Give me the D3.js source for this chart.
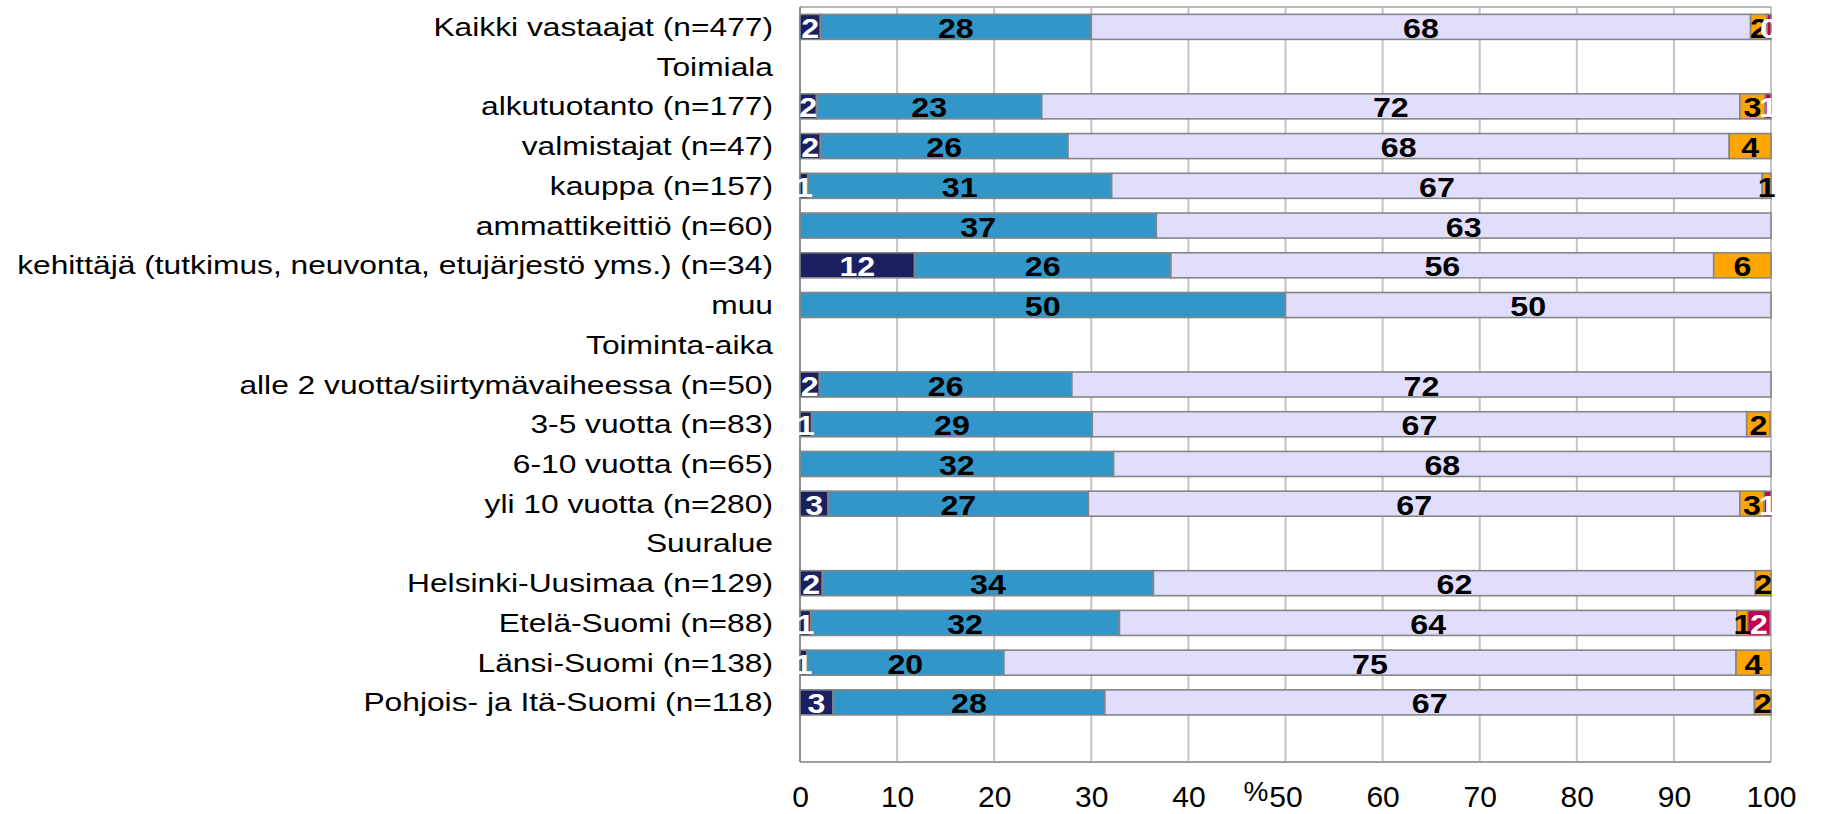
<!DOCTYPE html>
<html><head><meta charset="utf-8">
<script src="https://cdn.jsdelivr.net/npm/d3@7"></script>
<style>
html,body{margin:0;padding:0;background:#fff;}
svg{display:block;font-family:"Liberation Sans",Arial,sans-serif;}
</style></head>
<body>
<svg id="chart" width="1821" height="814"></svg>
<script>
const categories = [
  "Kaikki vastaajat (n=477)",
  "Toimiala",
  "alkutuotanto (n=177)",
  "valmistajat (n=47)",
  "kauppa (n=157)",
  "ammattikeittiö (n=60)",
  "kehittäjä (tutkimus, neuvonta, etujärjestö yms.) (n=34)",
  "muu",
  "Toiminta-aika",
  "alle 2 vuotta/siirtymävaiheessa (n=50)",
  "3-5 vuotta (n=83)",
  "6-10 vuotta (n=65)",
  "yli 10 vuotta (n=280)",
  "Suuralue",
  "Helsinki-Uusimaa (n=129)",
  "Etelä-Suomi (n=88)",
  "Länsi-Suomi (n=138)",
  "Pohjois- ja Itä-Suomi (n=118)",
  ""
];
const s1 = [2.1, null, 1.7, 2.1, 0.8, 0,    11.8, 0,  null, 2.0, 1.2, 0,    2.9, null, 2.3, 1.1, 0.7, 3.4, null];
const s2 = [27.9,null, 23.2,25.5, 31.3, 36.7, 26.4, 50, null, 26.0,28.9, 32.3, 26.8,null, 34.1, 31.8,20.3, 28.0,null];
const s3 = [67.9,null, 71.9,68.1, 67.0, 63.3, 55.9, 50, null, 72.0,67.4, 67.7, 67.1,null, 62.0, 63.6,75.4, 66.9,null];
const s4 = [1.7, null, 2.6, 4.3,  0.9,  0,    5.9,  0,  null, 0,   2.4,  0,    2.5, null, 1.6,  1.1, 3.6,  1.7, null];
const s5 = [0.4, null, 0.6, 0,    0,    0,    0,    0,  null, 0,   0,    0,    0.7, null, 0,    2.3, 0,    0,   null];
const xTicks = [0,10,20,30,40,50,60,70,80,90,100];

const series = [
  {vals:s1, fill:"#1b2160", text:"#fff"},
  {vals:s2, fill:"#3396c8", text:"#000"},
  {vals:s3, fill:"#e0ddfd", text:"#000"},
  {vals:s4, fill:"#ffa500", text:"#000"},
  {vals:s5, fill:"#c2004f", text:"#fff"}
];

const svg = d3.select("#chart");
const L = 800, R = 1771, T = 7, B = 762;
const x = d3.scaleLinear().domain([0,100]).range([L,R]);
const y = d3.scaleBand().domain(d3.range(categories.length)).range([T,B]).paddingInner(0.37).paddingOuter(0.185);

// gridlines
svg.append("g").selectAll("line").data(xTicks).join("line")
  .attr("x1", d=>x(d)).attr("x2", d=>x(d)).attr("y1", T).attr("y2", B)
  .attr("stroke", "#c4c4c4").attr("stroke-width", 2);
svg.append("line").attr("x1",L).attr("x2",R).attr("y1",T).attr("y2",T).attr("stroke","#b8b8b8").attr("stroke-width",2);
svg.append("line").attr("x1",L).attr("x2",R).attr("y1",B).attr("y2",B).attr("stroke","#a0a0a0").attr("stroke-width",2);
svg.append("line").attr("x1",L).attr("x2",L).attr("y1",T).attr("y2",B).attr("stroke","#909090").attr("stroke-width",2);

// build stacked segments
const segs = [];
categories.forEach((c,i)=>{
  let acc = 0;
  series.forEach((s,k)=>{
    const v = s.vals[i];
    if (v == null || v <= 0) return;
    segs.push({i, k, x0:acc, x1:acc+v, v, fill:s.fill, text:s.text});
    acc += v;
  });
});

const gBars = svg.append("g");
gBars.selectAll("rect").data(segs).join("rect")
  .attr("x", d=>x(d.x0)).attr("width", d=>x(d.x1)-x(d.x0))
  .attr("y", d=>y(d.i)).attr("height", y.bandwidth())
  .attr("fill", d=>d.fill).attr("stroke", "#858585").attr("stroke-width", 1.6);

gBars.selectAll("text").data(segs).join("text")
  .attr("transform", d=>`translate(${(x(d.x0)+x(d.x1))/2},${y(d.i)+y.bandwidth()/2+11}) scale(1.15,1)`)
  .attr("text-anchor","middle")
  .attr("font-weight","bold").attr("font-size",28)
  .attr("fill", d=>d.text)
  .text(d=>Math.round(d.v));

// category labels
const yAxis = d3.axisLeft(y).tickSize(0).tickPadding(27).tickFormat(i=>categories[i]);
const gy = svg.append("g").attr("transform",`translate(${L},0)`).call(yAxis);
gy.select(".domain").remove();
gy.selectAll("text").attr("font-size",25).attr("fill","#000").attr("font-family","Liberation Sans, Arial, sans-serif")
  .attr("dy","0.36em").attr("x",0).attr("transform","translate(-27,0) scale(1.27,1)");

// x axis
const xAxis = d3.axisBottom(x).tickValues(xTicks).tickSize(0).tickPadding(0).tickFormat(d3.format("d"));
const gx = svg.append("g").attr("transform",`translate(0,${B})`).call(xAxis);
gx.select(".domain").remove();
gx.selectAll("text").attr("font-size",30).attr("fill","#000").attr("dy",null).attr("y",45)
  .attr("font-family","Liberation Sans, Arial, sans-serif");

svg.append("text").attr("x", x(50)-17).attr("y", 801).attr("text-anchor","end")
  .attr("font-size",28).attr("fill","#000").text("%");
</script>
</body></html>
